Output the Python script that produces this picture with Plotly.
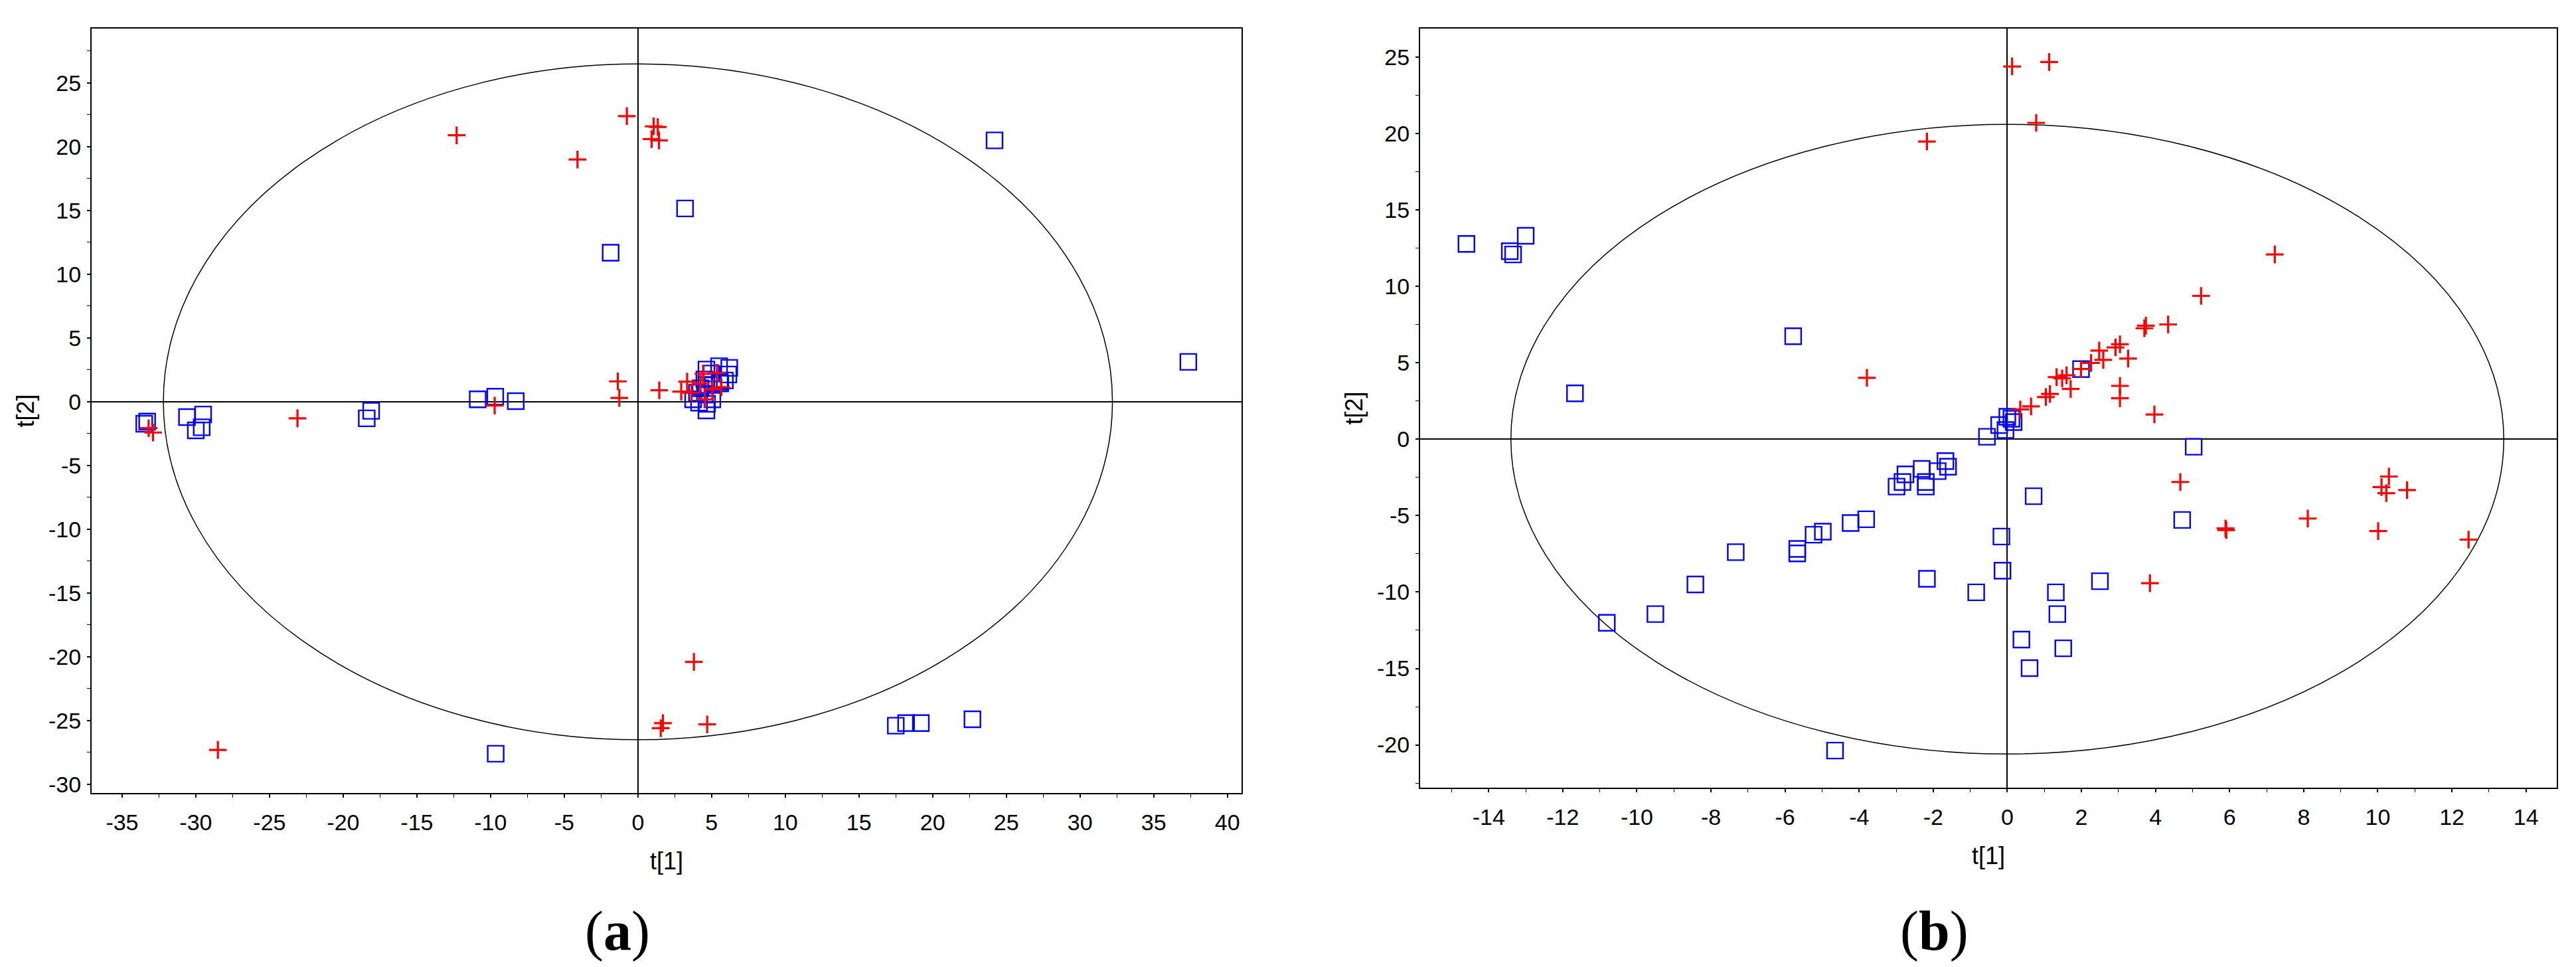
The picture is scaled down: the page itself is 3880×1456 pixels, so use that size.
import plotly.graph_objects as go

# ---------------- Data ----------------
# Panel (a) – red "+" group
A_PLUS_X = [-12.3, -0.75, 1.07, 1.35, 0.93, 1.43, -4.1, -1.36, -1.26, 1.45, 3.34, 2.94, 3.64, 4.45,
            5.36, 5.66, 4.55, 4.25, 5.05, -9.72, -23.1, -33.2, -32.9, -28.5, 3.8, 1.55, 1.7, 4.7]
A_PLUS_Y = [20.9, 22.4, 21.6, 21.55, 20.6, 20.5, 19.0, 1.6, 0.3, 0.9, 1.58, 0.8, 0.71, 2.19,
            2.27, 1.15, 0.19, 1.41, 0.97, -0.3, -1.3, -2.07, -2.41, -27.3, -20.4, -25.6, -25.2, -25.3]
# Panel (a) – blue square group
A_SQ_X = [24.2, 37.35, 3.2, -1.85, 17.5, 18.2, 19.2, 22.7, -9.65, -10.87, -9.68, -8.29, -18.1, -18.4,
          -29.5, -30.6, -29.6, -30.0, -33.5, -33.3, 4.65, 5.51, 6.20, 6.14, 5.90, 5.59, 4.51, 4.95,
          4.65, 4.25, 5.09, 4.01, 3.75, 4.15, 4.69, 4.65, 5.05, 4.55, 5.55]
A_SQ_Y = [20.5, 3.13, 15.16, 11.69, -25.4, -25.2, -25.2, -24.9, -27.6, 0.19, 0.4, 0.05, -0.71, -1.3,
          -1.0, -1.2, -2.0, -2.24, -1.72, -1.55, 2.53, 2.79, 2.66, 2.14, 1.67, 1.44, 1.75, 2.22,
          1.32, 1.06, 1.32, 0.71, 0.19, -0.07, -0.16, -0.68, 0.19, 0.63, 1.58]

# Panel (b) – red "+" group
B_PLUS_X = [0.13, 1.13, 0.78, -2.17, -3.79, 7.22, 5.23, 4.34, 3.74, 3.70, 3.04, 2.92, 3.26, 2.48,
            2.59, 2.26, 1.99, 1.60, 1.48, 1.33, 1.71, 1.15, 1.04, 0.64, 0.35, 3.04, 3.04, 3.97,
            4.67, 3.85, 5.89, 5.91, 8.11, 10.01, 10.30, 10.10, 10.23, 10.79, 12.45]
B_PLUS_Y = [24.39, 24.68, 20.70, 19.48, 4.02, 12.09, 9.38, 7.51, 7.43, 7.26, 6.21, 6.01, 5.28, 5.80,
            5.19, 4.99, 4.59, 4.18, 3.98, 4.06, 3.29, 2.96, 2.76, 2.15, 1.95, 3.49, 2.68, 1.62,
            -2.80, -9.42, -5.84, -5.95, -5.19, -6.01, -2.44, -3.13, -3.53, -3.33, -6.57]
# Panel (b) – blue square group
B_SQ_X = [-14.6, -13.43, -13.34, -13.0, -11.67, -5.78, -10.81, -9.50, -8.42, -7.33, -5.67, -5.67,
          -5.23, -4.98, -4.23, -3.81, -2.99, -2.83, -2.75, -2.31, -2.2, -2.2, -1.88, -1.67, -1.6,
          -0.55, -0.22, -0.05, 0.0, 0.17, 0.11, 1.99, 5.03, 0.71, -0.16, -0.13, -2.17, -0.84,
          1.31, 1.35, 2.50, 0.38, 1.51, 0.60, 4.72, -4.65]
B_SQ_Y = [12.78, 12.30, 12.09, 13.31, 3.0, 6.74, -12.01, -11.44, -9.50, -7.39, -7.47, -7.18,
          -6.25, -6.05, -5.48, -5.24, -3.1, -2.8, -2.3, -1.94, -2.8, -3.1, -2.09, -1.43, -1.8,
          0.16, 0.93, 0.6, 1.47, 1.12, 1.34, 4.59, -0.49, -3.73, -6.37, -8.60, -9.13, -10.02,
          -10.02, -11.44, -9.29, -13.11, -13.68, -14.98, -5.28, -20.37]

# Hotelling T2 ellipse semi-axes (t1, t2)
A_ELLIPSE = [32.2, 26.5]
B_ELLIPSE = [13.4, 20.6]

# Axis ranges and tick labels
A_XRANGE = [-37.07, 40.96]
A_YRANGE = [-30.68, 29.27]
B_XRANGE = [-15.85, 14.83]
B_YRANGE = [-22.8, 26.87]
A_XTICKS = [-35, -30, -25, -20, -15, -10, -5, 0, 5, 10, 15, 20, 25, 30, 35, 40]
A_YTICKS = [-30, -25, -20, -15, -10, -5, 0, 5, 10, 15, 20, 25]
B_XTICKS = [-14, -12, -10, -8, -6, -4, -2, 0, 2, 4, 6, 8, 10, 12, 14]
B_YTICKS = [-20, -15, -10, -5, 0, 5, 10, 15, 20, 25]
X_TITLE = "t[1]"
Y_TITLE = "t[2]"
PANEL_LABELS = ["(<b>a</b>)", "(<b>b</b>)"]

RED = "#FF0000"
BLUE = "#0000FF"
FONT = "Liberation Sans, Arial, sans-serif"


def lab(v):
    return str(v).replace("\u2212", "-")


fig = go.Figure()

plus_marker = dict(symbol="cross-thin-open", size=19, color=RED, line=dict(width=3.2, color=RED))
sq_marker = dict(symbol="square-open", size=24, color=BLUE, line=dict(width=2.4, color=BLUE))

fig.add_trace(go.Scatter(x=A_SQ_X, y=A_SQ_Y, mode="markers", marker=sq_marker,
                         xaxis="x", yaxis="y", showlegend=False))
fig.add_trace(go.Scatter(x=A_PLUS_X, y=A_PLUS_Y, mode="markers", marker=plus_marker,
                         xaxis="x", yaxis="y", showlegend=False))
fig.add_trace(go.Scatter(x=B_SQ_X, y=B_SQ_Y, mode="markers", marker=sq_marker,
                         xaxis="x2", yaxis="y2", showlegend=False))
fig.add_trace(go.Scatter(x=B_PLUS_X, y=B_PLUS_Y, mode="markers", marker=plus_marker,
                         xaxis="x2", yaxis="y2", showlegend=False))

# Ellipses
fig.add_shape(type="circle", xref="x", yref="y", x0=-A_ELLIPSE[0], x1=A_ELLIPSE[0],
              y0=-A_ELLIPSE[1], y1=A_ELLIPSE[1], line=dict(color="black", width=1.5), layer="below")
fig.add_shape(type="circle", xref="x2", yref="y2", x0=-B_ELLIPSE[0], x1=B_ELLIPSE[0],
              y0=-B_ELLIPSE[1], y1=B_ELLIPSE[1], line=dict(color="black", width=1.5), layer="below")

W, H = 3880, 1456
ML, MR, MT, MB = 130, 37, 35, 270
PW = W - ML - MR
PH = H - MT - MB

common = dict(showline=True, linecolor="black", linewidth=2, mirror=True, showgrid=False,
              zeroline=True, zerolinecolor="black", zerolinewidth=2,
              ticks="outside", ticklen=5, tickwidth=2, tickcolor="black",
              tickfont=dict(family=FONT, size=34, color="black"),
              tickmode="array")

fig.update_layout(
    width=W, height=H,
    margin=dict(l=ML, r=MR, t=MT, b=MB),
    paper_bgcolor="white", plot_bgcolor="white",
    font=dict(family=FONT, color="black"),
    xaxis=dict(common, domain=[0, (1862 - ML) / PW], range=A_XRANGE,
               tickvals=A_XTICKS, ticktext=[lab(v) for v in A_XTICKS],
               minor=dict(tickmode="linear", tick0=0, dtick=2.5, ticks="outside", ticklen=5,
                          tickcolor="black", tickwidth=1),
               ticklabelstandoff=8,
               title=dict(text=X_TITLE, font=dict(family=FONT, size=36), standoff=28),
               anchor="y"),
    yaxis=dict(common, domain=[0, 1], range=A_YRANGE,
               tickvals=A_YTICKS, ticktext=[lab(v) for v in A_YTICKS],
               minor=dict(tickmode="linear", tick0=0, dtick=2.5, ticks="outside", ticklen=5,
                          tickcolor="black", tickwidth=1),
               ticklabelstandoff=2,
               title=dict(text=Y_TITLE, font=dict(family=FONT, size=36), standoff=10),
               anchor="x"),
    xaxis2=dict(common, domain=[(2131 - ML) / PW, 1], range=B_XRANGE,
                tickvals=B_XTICKS, ticktext=[lab(v) for v in B_XTICKS],
                minor=dict(tickmode="linear", tick0=0, dtick=1, ticks="outside", ticklen=5,
                           tickcolor="black", tickwidth=1),
                zerolinewidth=1.5,
                ticklabelstandoff=8,
                title=dict(text=X_TITLE, font=dict(family=FONT, size=36), standoff=28),
                anchor="y2"),
    yaxis2=dict(common, domain=[(1186 - 1178) / PH, 1], range=B_YRANGE,
                tickvals=B_YTICKS, ticktext=[lab(v) for v in B_YTICKS],
                minor=dict(tickmode="linear", tick0=0, dtick=2.5, ticks="outside", ticklen=5,
                           tickcolor="black", tickwidth=1),
                ticklabelstandoff=2,
                title=dict(text=Y_TITLE, font=dict(family=FONT, size=36), standoff=10),
                anchor="x2"),
)

# Panel labels (a) and (b)
for txt, xpix in zip(PANEL_LABELS, [922, 2905]):
    fig.add_annotation(text=txt, xref="paper", yref="paper",
                       x=(xpix - ML) / PW, y=(H - MB - 1394) / PH,
                       showarrow=False, xanchor="center", yanchor="middle",
                       font=dict(family="Liberation Serif, Times New Roman, serif", size=84, color="black"))

fig.write_html("out.html")
